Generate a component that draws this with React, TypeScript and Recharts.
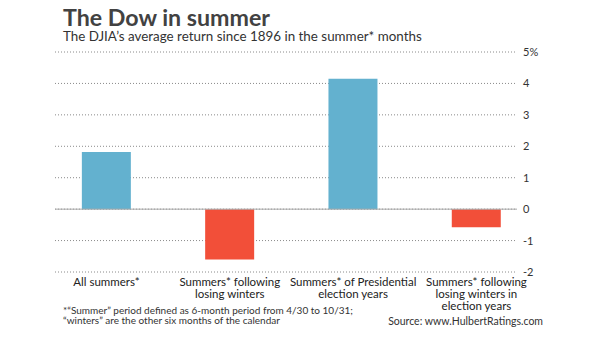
import React from "react";
import { BarChart, Bar, XAxis, YAxis, CartesianGrid, ReferenceLine, Cell } from "recharts";

const categories = [
  "All summers*",
  "Summers* following losing winters",
  "Summers* of Presidential election years",
  "Summers* following losing winters in election years",
];
const tickLabels = [
  ["All summers*"],
  ["Summers* following", "losing winters"],
  ["Summers* of Presidential", "election years"],
  ["Summers* following", "losing winters in", "election years"],
];
const returns = [1.82, -1.6, 4.15, -0.58];
const yTicks = [-2, -1, 0, 1, 2, 3, 4, 5];
const xTicks = [0, 1, 2, 3];

const data = categories.map((name, i) => ({ idx: i, name, value: returns[i] }));

const FONT = "Lato, 'Open Sans', sans-serif";
const BLUE = "#63b1cf";
const RED = "#f24f39";

const XTick = (props: any) => {
  const { x, y, payload } = props;
  const lines = tickLabels[payload.value] || [];
  return (
    <text x={x} y={y} textAnchor="middle" fontSize={11.5} fill="#222" fontFamily={FONT}>
      {lines.map((l, i) => (
        <tspan key={i} x={x} dy={i === 0 ? 14 : 11.8}>
          {l}
        </tspan>
      ))}
    </text>
  );
};

const YTick = (props: any) => {
  const { x, y, payload } = props;
  const v = payload.value;
  const label = v === 5 ? "5%" : String(v);
  return (
    <text x={x} y={y} dy={4} textAnchor="start" fontSize={11} fill="#333" fontFamily={FONT}>
      {label}
    </text>
  );
};

export default function App() {
  return (
    <div style={{ position: "absolute", left: 0, top: 0, width: 600, height: 337, background: "#fff", fontFamily: FONT }}>
      <BarChart
        width={600}
        height={337}
        data={data}
        margin={{ top: 52, right: 43, bottom: 35, left: 55 }}
      >
        <CartesianGrid horizontal vertical={false} stroke="#8a8a8a" strokeDasharray="1 2" />
        <XAxis
          dataKey="idx"
          type="number"
          domain={[-0.4177, 3.329]}
          ticks={xTicks}
          axisLine={false}
          tickLine={false}
          tickSize={0}
          tickMargin={0}
          height={30}
          interval={0}
          tick={<XTick />}
        />
        <YAxis
          orientation="right"
          domain={[-2, 5]}
          ticks={yTicks}
          axisLine={false}
          tickLine={false}
          tickSize={0}
          tickMargin={6}
          width={40}
          tick={<YTick />}
        />
        <ReferenceLine y={0} stroke="#a8a8a8" strokeWidth={1} />
        <Bar dataKey="value" barSize={49} isAnimationActive={false}>
          {data.map((d, i) => (
            <Cell key={i} fill={d.value >= 0 ? BLUE : RED} />
          ))}
        </Bar>
      </BarChart>
      <svg
        width={600}
        height={337}
        style={{ position: "absolute", left: 0, top: 0, pointerEvents: "none" }}
      >
        <text x={63} y={25.5} fontFamily={FONT} fontWeight={700} fontSize={23.2} fill="#424242">
          The Dow in summer
        </text>
        <text x={63} y={41} fontFamily={FONT} fontSize={13.4} fill="#333">
          The DJIA’s average return since 1896 in the summer* months
        </text>
        <text x={63} y={313.5} fontFamily={FONT} fontSize={10} fill="#333">
          *“Summer” period defined as 6-month period from 4/30 to 10/31;
        </text>
        <text x={63} y={324} fontFamily={FONT} fontSize={10} fill="#333">
          “winters” are the other six months of the calendar
        </text>
        <text x={543} y={324.5} textAnchor="end" fontFamily={FONT} fontSize={10.5} fill="#333">
          Source: www.HulbertRatings.com
        </text>
      </svg>
    </div>
  );
}
